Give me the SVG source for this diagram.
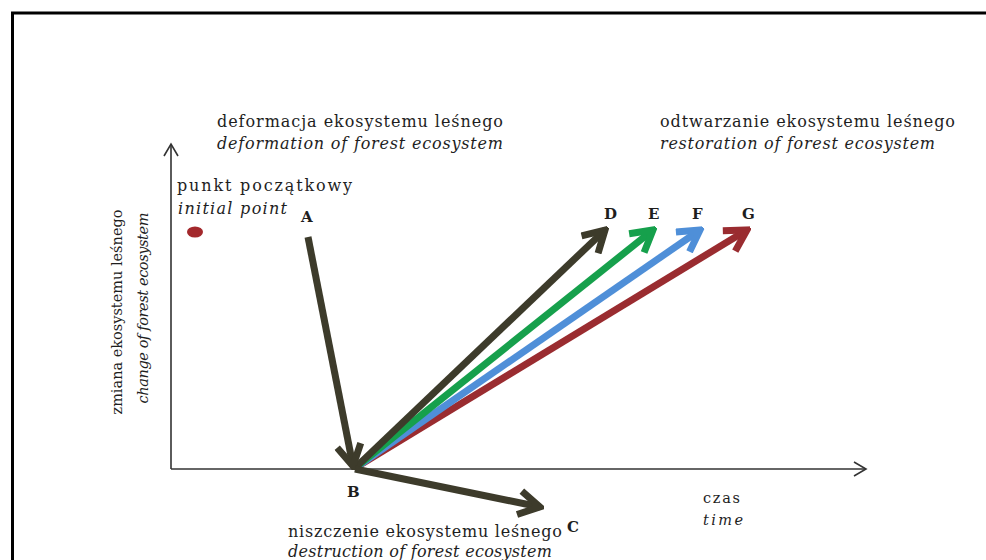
<svg xmlns="http://www.w3.org/2000/svg" width="986" height="560" viewBox="0 0 986 560">
<style>
text{font-family:"DejaVu Serif","Liberation Serif",serif;fill:#1e1e1e;font-size:16px}
.it{font-style:italic}
.sm{font-size:14.5px}
.lbl{font-weight:bold;font-size:15px}
.ax{stroke:#333;stroke-width:1.6;fill:none}
.arr{stroke-width:7;fill:none}
</style>
<defs>
<marker id="hOl" markerUnits="userSpaceOnUse" viewBox="-26 -15 30 30" refX="0" refY="0" markerWidth="30" markerHeight="30" orient="auto"><path d="M-21,-12 L0,0 L-21,12" fill="none" stroke="#3d3b2b" stroke-width="7"/></marker>
<marker id="hGr" markerUnits="userSpaceOnUse" viewBox="-26 -15 30 30" refX="0" refY="0" markerWidth="30" markerHeight="30" orient="auto"><path d="M-21,-12 L0,0 L-21,12" fill="none" stroke="#16a04c" stroke-width="7"/></marker>
<marker id="hBl" markerUnits="userSpaceOnUse" viewBox="-26 -15 30 30" refX="0" refY="0" markerWidth="30" markerHeight="30" orient="auto"><path d="M-21,-12 L0,0 L-21,12" fill="none" stroke="#4f8fd8" stroke-width="7"/></marker>
<marker id="hRd" markerUnits="userSpaceOnUse" viewBox="-26 -15 30 30" refX="0" refY="0" markerWidth="30" markerHeight="30" orient="auto"><path d="M-21,-12 L0,0 L-21,12" fill="none" stroke="#9a2c30" stroke-width="7"/></marker>
<marker id="ax" markerUnits="userSpaceOnUse" viewBox="-14 -9 16 18" refX="0" refY="0" markerWidth="16" markerHeight="18" orient="auto"><path d="M-12,-7 L0,0 L-12,7" fill="none" stroke="#333" stroke-width="1.6"/></marker>
</defs>
<rect width="986" height="560" fill="#fff"/>
<path d="M12.5,565 V13 H995" fill="none" stroke="#000" stroke-width="3"/>

<g id="axes">
<path class="ax" d="M171,469 V144" marker-end="url(#ax)"/>
<path class="ax" d="M171,469 H866" marker-end="url(#ax)"/>
</g>

<g id="y-label">
<text class="sm" transform="translate(122,312) rotate(-90)" text-anchor="middle" textLength="205">zmiana ekosystemu leśnego</text>
<text class="sm it" transform="translate(148,308) rotate(-90)" text-anchor="middle" textLength="191">change of forest ecosystem</text>
</g>

<g id="x-label">
<text class="sm" x="703" y="503" textLength="37">czas</text>
<text class="sm it" x="703" y="525" textLength="40">time</text>
</g>

<g id="deformation">
<text x="217" y="127" textLength="286">deformacja ekosystemu leśnego</text>
<text class="it" x="217" y="149" textLength="286">deformation of forest ecosystem</text>
</g>

<g id="restoration">
<text x="660" y="127" textLength="295">odtwarzanie ekosystemu leśnego</text>
<text class="it" x="660" y="149" textLength="275">restoration of forest ecosystem</text>
</g>

<g id="initial-point">
<text x="177" y="191" textLength="175">punkt początkowy</text>
<text class="it" x="178" y="214" textLength="109">initial point</text>
<ellipse cx="195" cy="232" rx="8" ry="5.5" fill="#a3282c"/>
</g>

<g id="destruction">
<text x="288" y="537" textLength="274">niszczenie ekosystemu leśnego</text>
<text class="it" x="288" y="557" textLength="264">destruction of forest ecosystem</text>
</g>

<g id="node-A"><text class="lbl" x="301" y="222">A</text></g>
<g id="node-B"><text class="lbl" x="347" y="497">B</text></g>
<g id="node-C"><text class="lbl" x="567" y="532">C</text></g>
<g id="node-D"><text class="lbl" x="604" y="219">D</text></g>
<g id="node-E"><text class="lbl" x="648" y="219">E</text></g>
<g id="node-F"><text class="lbl" x="692" y="219">F</text></g>
<g id="node-G"><text class="lbl" x="742" y="219">G</text></g>

<g id="connectors">
<line class="arr" x1="355" y1="468" x2="747" y2="230" stroke="#9a2c30" marker-end="url(#hRd)"/>
<line class="arr" x1="355" y1="468" x2="700" y2="230" stroke="#4f8fd8" marker-end="url(#hBl)"/>
<line class="arr" x1="355" y1="468" x2="653" y2="230" stroke="#16a04c" marker-end="url(#hGr)"/>
<line class="arr" x1="355" y1="468" x2="605" y2="230" stroke="#3d3b2b" marker-end="url(#hOl)"/>
<line class="arr" x1="308" y1="237" x2="353" y2="466" stroke="#3d3b2b" marker-end="url(#hOl)"/>
<line class="arr" x1="355" y1="469" x2="540" y2="507" stroke="#3d3b2b" marker-end="url(#hOl)"/>
</g>
</svg>
